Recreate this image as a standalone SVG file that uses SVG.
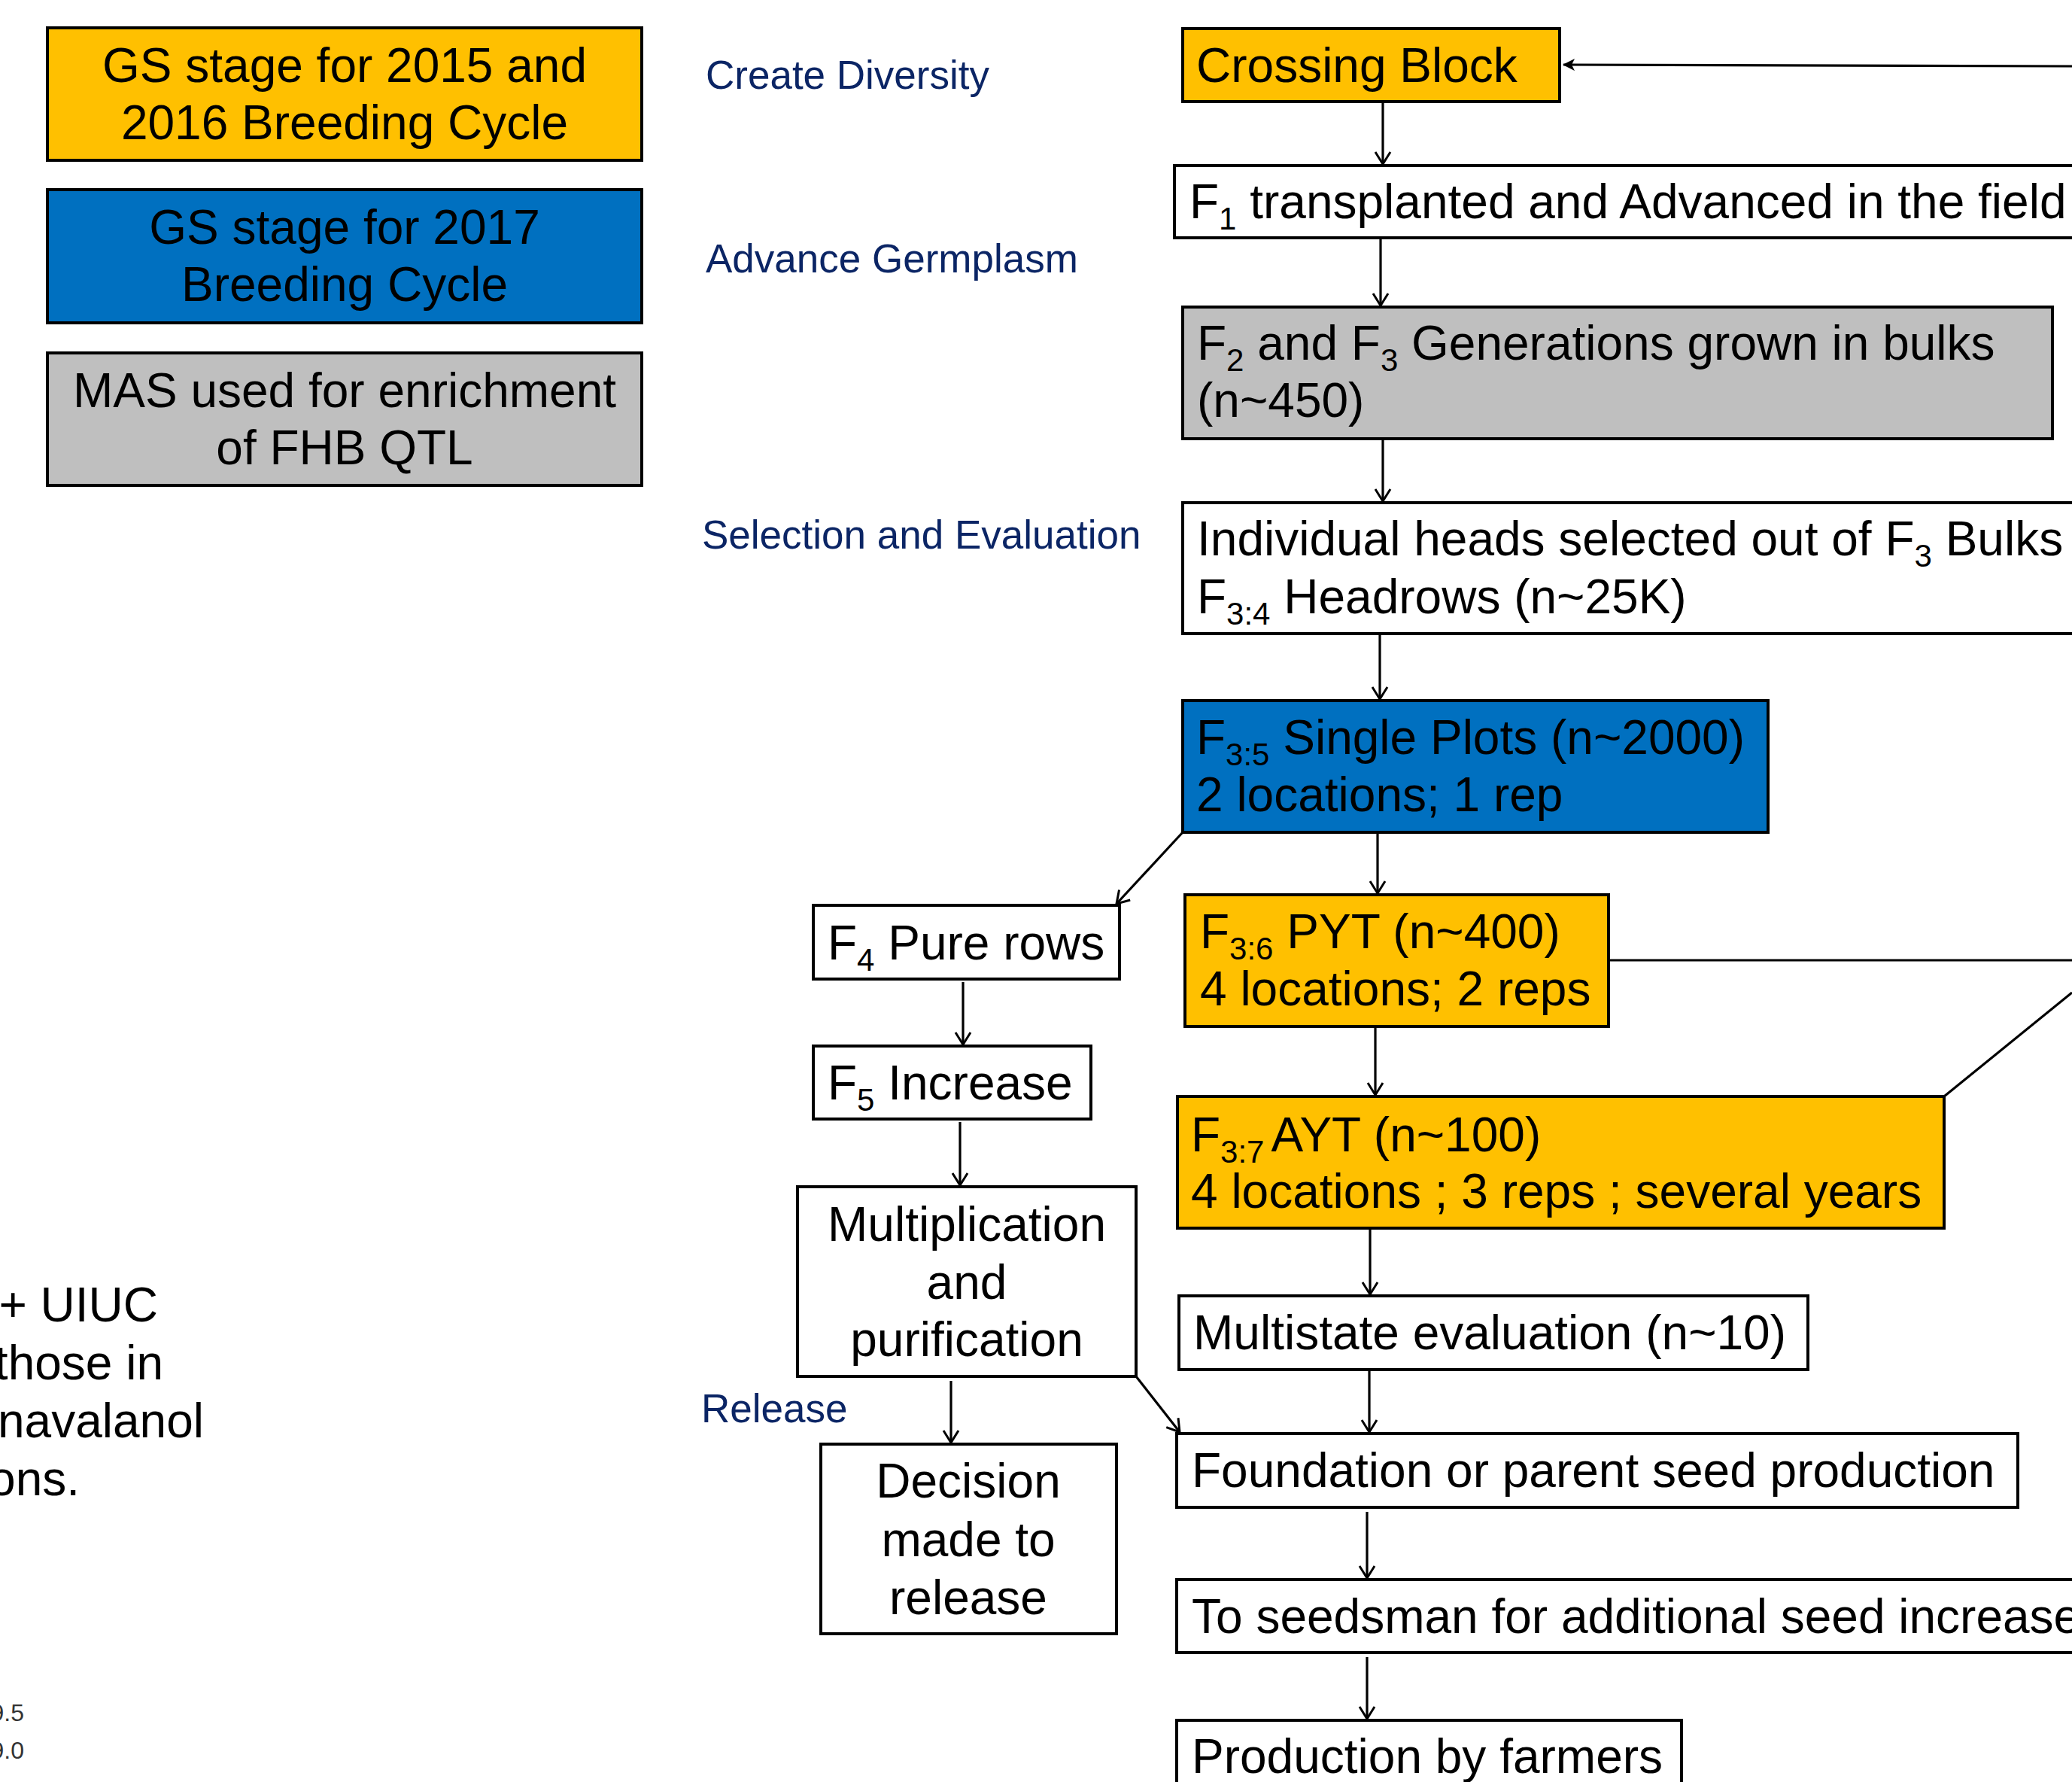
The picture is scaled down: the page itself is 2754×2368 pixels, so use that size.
<svg xmlns="http://www.w3.org/2000/svg" width="2754" height="2368" viewBox="0 0 2754 2368">
<style>
.box{stroke:#000;stroke-width:4}
.t{font-family:"Liberation Sans",Arial,sans-serif;font-size:64px;fill:#000}
.c{text-anchor:middle}
.lab{font-family:"Liberation Sans",Arial,sans-serif;font-size:53px;fill:#0B2565}
.s{font-size:42px}
.con{stroke:#000;stroke-width:3.2;fill:none}
.num{font-family:"Liberation Sans",Arial,sans-serif;font-size:32px;fill:#333;text-anchor:end}
</style>
<defs>
<marker id="arr" viewBox="0 0 20 24" markerWidth="20" markerHeight="24" refX="18" refY="12" orient="auto" markerUnits="userSpaceOnUse">
<path d="M2,2 L18,12 L2,22" fill="none" stroke="#000" stroke-width="3"/>
</marker>
<marker id="arrf" viewBox="0 0 16 16" markerWidth="16" markerHeight="16" refX="15" refY="8" orient="auto" markerUnits="userSpaceOnUse">
<path d="M0,0 L16,8 L0,16 L4,8 z" fill="#000"/>
</marker>
</defs>
<rect width="2754" height="2368" fill="#fff"/>

<g id="legend-gs2015">
<rect class="box" x="63" y="37" width="790" height="176" fill="#FFC000"/>
<text class="t c" x="458" y="109">GS stage for 2015 and</text>
<text class="t c" x="458" y="185">2016 Breeding Cycle</text>
</g>
<g id="legend-gs2017">
<rect class="box" x="63" y="252" width="790" height="177" fill="#0070C0"/>
<text class="t c" x="458" y="324">GS stage for 2017</text>
<text class="t c" x="458" y="400">Breeding Cycle</text>
</g>
<g id="legend-mas">
<rect class="box" x="63" y="469" width="790" height="176" fill="#BFBFBF"/>
<text class="t c" x="458" y="541">MAS used for enrichment</text>
<text class="t c" x="458" y="617">of FHB QTL</text>
</g>

<g id="stage-labels">
<text class="lab" x="938" y="118">Create Diversity</text>
<text class="lab" x="938" y="362">Advance Germplasm</text>
<text class="lab" x="933" y="729">Selection and Evaluation</text>
<text class="lab" x="932" y="1890">Release</text>
</g>

<g id="side-text">
<text class="t" x="210" y="1756" text-anchor="end">+ UIUC</text>
<text class="t" x="217" y="1833" text-anchor="end">those in</text>
<text class="t" x="271" y="1910" text-anchor="end">navalanol</text>
<text class="t" x="106" y="1987" text-anchor="end">ons.</text>
<text class="num" x="32" y="2287">9.5</text>
<text class="num" x="32" y="2337">9.0</text>
</g>

<g id="connectors">
<line class="con" x1="2754" y1="88" x2="2078" y2="86" marker-end="url(#arrf)"/>
<line class="con" x1="1838" y1="135" x2="1838" y2="218" marker-end="url(#arr)"/>
<line class="con" x1="1835" y1="316" x2="1835" y2="406" marker-end="url(#arr)"/>
<line class="con" x1="1838" y1="583" x2="1838" y2="666" marker-end="url(#arr)"/>
<line class="con" x1="1834" y1="842" x2="1834" y2="929" marker-end="url(#arr)"/>
<line class="con" x1="1572" y1="1106" x2="1484" y2="1201" marker-end="url(#arr)"/>
<line class="con" x1="1831" y1="1106" x2="1831" y2="1187" marker-end="url(#arr)"/>
<line class="con" x1="1280" y1="1305" x2="1280" y2="1388" marker-end="url(#arr)"/>
<line class="con" x1="1828" y1="1364" x2="1828" y2="1455" marker-end="url(#arr)"/>
<line class="con" x1="1276" y1="1491" x2="1276" y2="1575" marker-end="url(#arr)"/>
<line class="con" x1="1821" y1="1634" x2="1821" y2="1720" marker-end="url(#arr)"/>
<line class="con" x1="1264" y1="1835" x2="1264" y2="1917" marker-end="url(#arr)"/>
<line class="con" x1="1510" y1="1829" x2="1568" y2="1903" marker-end="url(#arr)"/>
<line class="con" x1="1820" y1="1820" x2="1820" y2="1903" marker-end="url(#arr)"/>
<line class="con" x1="1817" y1="2009" x2="1817" y2="2097" marker-end="url(#arr)"/>
<line class="con" x1="1817" y1="2202" x2="1817" y2="2284" marker-end="url(#arr)"/>
<line class="con" x1="2138" y1="1276" x2="2754" y2="1276" stroke-width="3.5"/>
<line class="con" x1="2584" y1="1457" x2="2754" y2="1319" stroke-width="3.5"/>
</g>

<g id="crossing-block">
<rect class="box" x="1572" y="38" width="501" height="97" fill="#FFC000"/>
<text class="t" x="1590" y="109">Crossing Block</text>
</g>
<g id="f1">
<rect class="box" x="1561" y="220" width="1300" height="96" fill="#fff"/>
<text class="t" x="1581" y="290">F<tspan class="s" dy="15">1</tspan><tspan dy="-15"> transplanted and Advanced in the field</tspan></text>
</g>
<g id="f2f3">
<rect class="box" x="1572" y="408" width="1156" height="175" fill="#BFBFBF"/>
<text class="t" x="1591" y="478">F<tspan class="s" dy="15">2</tspan><tspan dy="-15"> and F</tspan><tspan class="s" dy="15">3</tspan><tspan dy="-15"> Generations grown in bulks</tspan></text>
<text class="t" x="1591" y="554">(n~450)</text>
</g>
<g id="headrows">
<rect class="box" x="1572" y="668" width="1300" height="174" fill="#fff"/>
<text class="t" x="1591" y="738">Individual heads selected out of F<tspan class="s" dy="15">3</tspan><tspan dy="-15"> Bulks</tspan></text>
<text class="t" x="1591" y="815">F<tspan class="s" dy="15">3:4</tspan><tspan dy="-15"> Headrows (n~25K)</tspan></text>
</g>
<g id="f35">
<rect class="box" x="1572" y="931" width="778" height="175" fill="#0070C0"/>
<text class="t" x="1590" y="1002">F<tspan class="s" dy="15">3:5</tspan><tspan dy="-15"> Single Plots (n~2000)</tspan></text>
<text class="t" x="1590" y="1078">2 locations; 1 rep</text>
</g>
<g id="f4">
<rect class="box" x="1081" y="1203" width="407" height="98" fill="#fff"/>
<text class="t" x="1100" y="1275">F<tspan class="s" dy="15">4</tspan><tspan dy="-15"> Pure rows</tspan></text>
</g>
<g id="pyt">
<rect class="box" x="1575" y="1189" width="563" height="175" fill="#FFC000"/>
<text class="t" x="1595" y="1260">F<tspan class="s" dy="15">3:6</tspan><tspan dy="-15"> PYT (n~400)</tspan></text>
<text class="t" x="1595" y="1336">4 locations; 2 reps</text>
</g>
<g id="f5">
<rect class="box" x="1081" y="1390" width="369" height="97" fill="#fff"/>
<text class="t" x="1100" y="1461">F<tspan class="s" dy="15">5</tspan><tspan dy="-15"> Increase</tspan></text>
</g>
<g id="ayt">
<rect class="box" x="1565" y="1457" width="1019" height="175" fill="#FFC000"/>
<text class="t" x="1583" y="1530">F<tspan class="s" dy="15">3:7</tspan><tspan dy="-15" dx="9">AYT (n~100)</tspan></text>
<text class="t" x="1583" y="1605">4 locations ; 3 reps ; several years</text>
</g>
<g id="multiplication">
<rect class="box" x="1060" y="1577" width="450" height="252" fill="#fff"/>
<text class="t c" x="1285" y="1649">Multiplication</text>
<text class="t c" x="1285" y="1726">and</text>
<text class="t c" x="1285" y="1802">purification</text>
</g>
<g id="multistate">
<rect class="box" x="1567" y="1722" width="836" height="98" fill="#fff"/>
<text class="t" x="1586" y="1793">Multistate evaluation (n~10)</text>
</g>
<g id="decision">
<rect class="box" x="1091" y="1919" width="393" height="252" fill="#fff"/>
<text class="t c" x="1287" y="1990">Decision</text>
<text class="t c" x="1287" y="2068">made to</text>
<text class="t c" x="1287" y="2145">release</text>
</g>
<g id="foundation">
<rect class="box" x="1564" y="1905" width="1118" height="98" fill="#fff"/>
<text class="t" x="1584" y="1976">Foundation or parent seed production</text>
</g>
<g id="seedsman">
<rect class="box" x="1564" y="2099" width="1300" height="97" fill="#fff"/>
<text class="t" x="1584" y="2170">To seedsman for additional seed increase</text>
</g>
<g id="farmers">
<rect class="box" x="1564" y="2286" width="671" height="200" fill="#fff"/>
<text class="t" x="1584" y="2356">Production by farmers</text>
</g>
</svg>
